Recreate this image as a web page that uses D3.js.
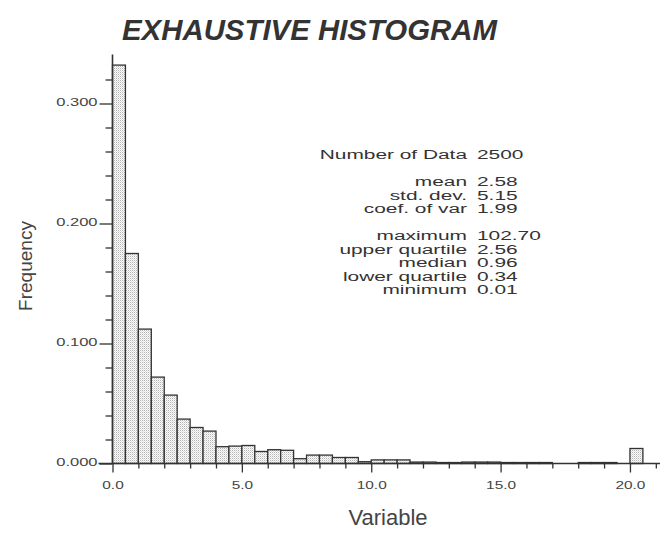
<!DOCTYPE html>
<html>
<head>
<meta charset="utf-8">
<script src="https://cdn.jsdelivr.net/npm/d3@7"></script>
<style>
  html, body { margin: 0; padding: 0; background: #fff; }
  svg { display: block; }
  text { font-family: "Liberation Sans", Arial, Helvetica, sans-serif; }
</style>
</head>
<body>
<svg id="chart" width="660" height="534"></svg>
<script>
// Histogram class lower edges (class width 0.5; last class holds everything above 20)
const binStarts = [0.0, 0.5, 1.0, 1.5, 2.0, 2.5, 3.0, 3.5, 4.0, 4.5,
                   5.0, 5.5, 6.0, 6.5, 7.0, 7.5, 8.0, 8.5, 9.0, 9.5,
                   10.0, 10.5, 11.0, 11.5, 12.0, 12.5, 13.0, 13.5, 14.0, 14.5,
                   15.0, 15.5, 16.0, 16.5, 17.0, 17.5, 18.0, 18.5, 19.0, 19.5,
                   20.0];
const binWidth = 0.5;

// Relative frequency of each class
const frequencies = [0.332, 0.175, 0.112, 0.072, 0.057, 0.037, 0.030, 0.027, 0.014, 0.0145,
                     0.015, 0.010, 0.0115, 0.011, 0.004, 0.007, 0.007, 0.005, 0.005, 0.0015,
                     0.003, 0.003, 0.003, 0.0012, 0.0012, 0.0008, 0.0008, 0.0012, 0.0012, 0.0012,
                     0.0008, 0.0008, 0.0008, 0.0008, 0, 0, 0.0008, 0.0008, 0.0008, 0,
                     0.0125];

// Axis ticks
const yMajorTicks = [0.0, 0.1, 0.2, 0.3];
const yTickLabels = ["0.000", "0.100", "0.200", "0.300"];
const yMinorTicks = [0.02, 0.04, 0.06, 0.08, 0.12, 0.14, 0.16, 0.18,
                     0.22, 0.24, 0.26, 0.28, 0.32];
const xMajorTicks = [0, 5, 10, 15, 20];
const xTickLabels = ["0.0", "5.0", "10.0", "15.0", "20.0"];
const xMinorTicks = [1, 2, 3, 4, 6, 7, 8, 9, 11, 12, 13, 14, 16, 17, 18, 19, 21];

// Summary statistics block (blank entries separate the groups)
const statLabels = ["Number of Data", "", "mean", "std. dev.", "coef. of var", "",
                    "maximum", "upper quartile", "median", "lower quartile", "minimum"];
const statValues = ["2500", "", "2.58", "5.15", "1.99", "",
                    "102.70", "2.56", "0.96", "0.34", "0.01"];

const titleText = "EXHAUSTIVE HISTOGRAM";
const xTitle = "Variable";
const yTitle = "Frequency";

const svg = d3.select("#chart");
const ink = "#333";

// Stipple fill for the bars
const defs = svg.append("defs");
const pat = defs.append("pattern")
  .attr("id", "stipple")
  .attr("patternUnits", "userSpaceOnUse")
  .attr("width", 2).attr("height", 2);
pat.append("rect").attr("width", 2).attr("height", 2).attr("fill", "#fcfcfc");
pat.append("rect").attr("x", 0).attr("y", 0).attr("width", 1).attr("height", 1).attr("fill", "#b4b4b4");
pat.append("rect").attr("x", 1).attr("y", 1).attr("width", 1).attr("height", 1).attr("fill", "#dedede");

const x = d3.scaleLinear().domain([0, 21.2]).range([112.5, 661]);
const y = d3.scaleLinear().domain([0, 0.34]).range([463.5, 55.5]);

// Bars
const bins = binStarts.map((b, i) => ({ x0: b, x1: b + binWidth, f: frequencies[i] }))
  .filter(d => d.f > 0);
svg.append("g")
  .selectAll("rect")
  .data(bins)
  .join("rect")
  .attr("x", d => x(d.x0))
  .attr("y", d => y(d.f))
  .attr("width", d => x(d.x1) - x(d.x0))
  .attr("height", d => y(0) - y(d.f))
  .attr("fill", "url(#stipple)")
  .attr("stroke", ink)
  .attr("stroke-width", 1.3);

// Y axis: major ticks with labels, minor ticks without
const yAxisMajor = d3.axisLeft(y).tickValues(yMajorTicks).tickSize(13).tickPadding(2)
  .tickFormat((d, i) => yTickLabels[i]);
const yAxisMinor = d3.axisLeft(y).tickValues(yMinorTicks).tickSize(7).tickFormat("");

const gyMinor = svg.append("g").attr("transform", `translate(${x(0)},0)`).call(yAxisMinor);
const gy = svg.append("g").attr("transform", `translate(${x(0)},0)`).call(yAxisMajor);
[gy, gyMinor].forEach(g => {
  g.select(".domain").attr("stroke", ink).attr("stroke-width", 1.6);
  g.selectAll(".tick line").attr("stroke", ink).attr("stroke-width", 1.3);
});
gyMinor.select(".domain").remove();
gy.select(".domain").attr("d", `M0,${y(0)}V${y(0.34) - 1}`);
gy.selectAll(".tick text")
  .attr("x", 0).attr("dy", null).attr("y", 0)
  .attr("transform", "translate(-15,2) scale(1.5,1)")
  .attr("font-size", 11)
  .attr("fill", "#444");

// X axis
const xAxisMajor = d3.axisBottom(x).tickValues(xMajorTicks).tickSize(9).tickPadding(0)
  .tickFormat((d, i) => xTickLabels[i]);
const xAxisMinor = d3.axisBottom(x).tickValues(xMinorTicks).tickSize(5).tickFormat("");
const gxMinor = svg.append("g").attr("transform", `translate(0,${y(0)})`).call(xAxisMinor);
const gx = svg.append("g").attr("transform", `translate(0,${y(0)})`).call(xAxisMajor);
[gx, gxMinor].forEach(g => {
  g.select(".domain").attr("stroke", ink).attr("stroke-width", 1.6);
  g.selectAll(".tick line").attr("stroke", ink).attr("stroke-width", 1.3);
});
gxMinor.select(".domain").remove();
gx.select(".domain").attr("d", `M${x(0) - 14},0H661`);
gx.selectAll(".tick text")
  .attr("y", 0).attr("dy", null)
  .attr("transform", "translate(0,25) scale(1.4,1)")
  .attr("font-size", 11)
  .attr("fill", "#444");

// Title
svg.append("text")
  .attr("x", 122).attr("y", 40)
  .attr("font-size", 30)
  .attr("font-weight", "bold")
  .attr("font-style", "italic")
  .attr("textLength", 375)
  .attr("lengthAdjust", "spacingAndGlyphs")
  .attr("fill", ink)
  .text(titleText);

// Axis titles
svg.append("text")
  .attr("transform", "translate(32,266) rotate(-90)")
  .attr("text-anchor", "middle")
  .attr("font-size", 19)
  .attr("fill", "#444")
  .text(yTitle);

svg.append("text")
  .attr("x", 388).attr("y", 525)
  .attr("text-anchor", "middle")
  .attr("font-size", 22)
  .attr("fill", "#444")
  .text(xTitle);

// Statistics block: right-aligned names, left-aligned values
const statTop = 159, statStep = 13.5, statScale = 1.74;
const stats = svg.append("g");
statLabels.forEach((lab, i) => {
  if (!lab) return;
  const yy = statTop + i * statStep;
  stats.append("text")
    .attr("transform", `translate(467,${yy}) scale(${statScale},1)`)
    .attr("text-anchor", "end")
    .attr("font-size", 12)
    .attr("fill", ink)
    .text(lab);
  stats.append("text")
    .attr("transform", `translate(477,${yy}) scale(${statScale},1)`)
    .attr("font-size", 12)
    .attr("fill", ink)
    .text(statValues[i]);
});
</script>
</body>
</html>
